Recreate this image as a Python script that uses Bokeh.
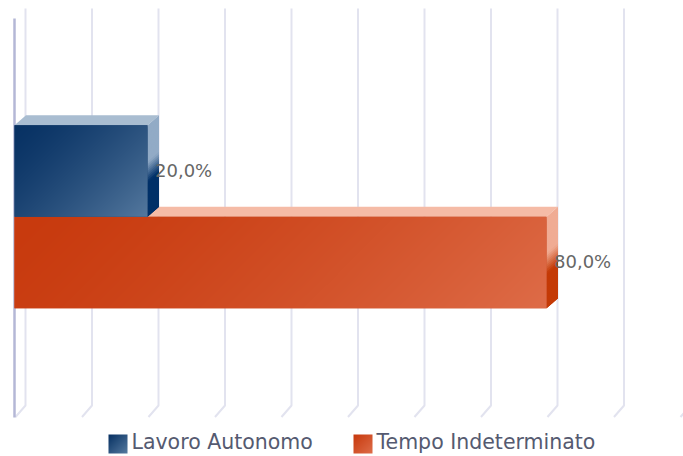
import numpy as np
from bokeh.plotting import figure
from bokeh.models import Range1d
from bokeh.core.properties import value
from bokeh.embed import file_html
from bokeh.resources import INLINE

# ---- data ----
categories = ["Lavoro Autonomo", "Tempo Indeterminato"]
percent_values = [20.0, 80.0]
category_positions = [1, 0]
grid_ticks = [0, 10, 20, 30, 40, 50, 60, 70, 80, 90, 100]

# ---- styles ----
front_a = [(8, 50, 100), (200, 58, 14)]
front_b = [(84, 120, 158), (222, 108, 72)]
top_cols = ["#a9bdd1", "#f5bba6"]
side_light = [(146, 171, 198), (240, 172, 148)]
side_dark = [(0, 48, 104), (196, 58, 6)]
label_col = "#666666"
legend_col = "#555a70"
grid_col = "#e2e3ef"
axis_col = "#b4b7d6"

W, H = 683, 456
PX_PER_PCT = 6.65
X0_PX = 14.0
BAND_PX = 91.5
ZERO_Y_PX = 262.0
DX = 11.5 / PX_PER_PCT
DY = 10.0 / BAND_PX

def dx_px(px):
    return (px - X0_PX) / PX_PER_PCT

def dy_px(px):
    return (ZERO_Y_PX - px) / BAND_PX

p = figure(width=W, height=H, output_backend="svg", toolbar_location=None,
           x_range=Range1d(dx_px(0), dx_px(W)),
           y_range=Range1d(dy_px(H), dy_px(0)),
           min_border=0, outline_line_color=None, background_fill_color="white")
p.axis.visible = False
p.grid.visible = False

# grid: vertical on the back wall, stub going forward on the floor
floor_back, floor_front = dy_px(405), dy_px(416.5)
top_y = dy_px(8)
dx_stub = 11.0 / PX_PER_PCT
p.multi_line(
    xs=[[t + dx_stub, t + dx_stub, t + 0.15] for t in grid_ticks],
    ys=[[top_y, floor_back, floor_front] for _ in grid_ticks],
    line_color=grid_col, line_width=2)

# front axis line
p.line([0, 0], [dy_px(18), dy_px(417)], line_color=axis_col, line_width=2.5)

def lerp(a, b, t):
    return tuple(int(round(a[k] + (b[k] - a[k]) * t)) for k in range(3))

half = 0.5
# the lower bar first, so that the upper bar's front and side sit over its top face
for i in (1, 0):
    v, pos = percent_values[i], category_positions[i]
    y0, y1 = pos - half, pos + half
    # top face
    p.patch([0, v, v + DX, DX], [y1, y1, y1 + DY, y1 + DY],
            fill_color=top_cols[i], line_color=None)
    # side face, light above, dark below; each strip reaches under the next
    n = 40
    xs, ys, cols = [], [], []
    for k in range(n):
        a = y1 - (y1 - y0) * k / n
        b = max(y0, y1 - (y1 - y0) * (k + 3) / n)
        t = (k + 0.5) / n
        m = min(1.0, max(0.0, (t - 0.40) / 0.22))
        c = lerp(side_light[i], side_dark[i], m)
        xs.append([v, v + DX, v + DX, v])
        ys.append([a, a + DY, b + DY, b])
        cols.append("#%02x%02x%02x" % c)
    p.patches(xs, ys, fill_color=cols, line_color=None)
    # front face base
    p.quad(left=[0], right=[v], bottom=[y0], top=[y1],
           fill_color="#%02x%02x%02x" % front_a[i], line_color=None)
    # diagonal gradient on front face
    w_px, h_px = int(round(v * PX_PER_PCT)), int(round(BAND_PX))
    u = np.linspace(0, 1, w_px)[None, :]
    r = np.linspace(1, 0, h_px)[:, None]   # row 0 is the bottom
    tt = ((u * w_px + r * h_px) / (w_px + h_px)) ** 1.4
    img = np.zeros((h_px, w_px), dtype=np.uint32)
    view = img.view(dtype=np.uint8).reshape((h_px, w_px, 4))
    for ch in range(3):
        view[:, :, ch] = (front_a[i][ch] + (front_b[i][ch] - front_a[i][ch]) * tt).astype(np.uint8)
    view[:, :, 3] = 255
    p.image_rgba(image=[img], x=[0], y=[y0], dw=[v], dh=[y1 - y0])

# value labels
p.text(x=[v + 7.5 / PX_PER_PCT for v in percent_values],
       y=[pos + 1.0 / BAND_PX for pos in category_positions],
       text=[f"{v:.1f}%".replace(".", ",") for v in percent_values],
       text_font=value("DejaVu Sans"), text_font_size="18px",
       text_color=label_col, text_baseline="middle", text_align="left")

# legend
swatch_x = [108, 353]
label_x = [131, 376]
sw = 19
for i, name in enumerate(categories):
    u = np.linspace(0, 1, sw)[None, :]
    r = np.linspace(1, 0, sw)[:, None]
    tt = (u + r) / 2
    img = np.zeros((sw, sw), dtype=np.uint32)
    view = img.view(dtype=np.uint8).reshape((sw, sw, 4))
    for ch in range(3):
        view[:, :, ch] = (front_a[i][ch] + (front_b[i][ch] - front_a[i][ch]) * tt).astype(np.uint8)
    view[:, :, 3] = 255
    p.image_rgba(image=[img], x=[dx_px(swatch_x[i])], y=[dy_px(453)],
                 dw=[sw / PX_PER_PCT], dh=[sw / BAND_PX])
    p.text(x=[dx_px(label_x[i])], y=[dy_px(441.5)], text=[name],
           text_font=value("DejaVu Sans"), text_font_size="20.5px",
           text_color=legend_col, text_baseline="middle", text_align="left")

open("out.html", "w").write(file_html(p, INLINE))
